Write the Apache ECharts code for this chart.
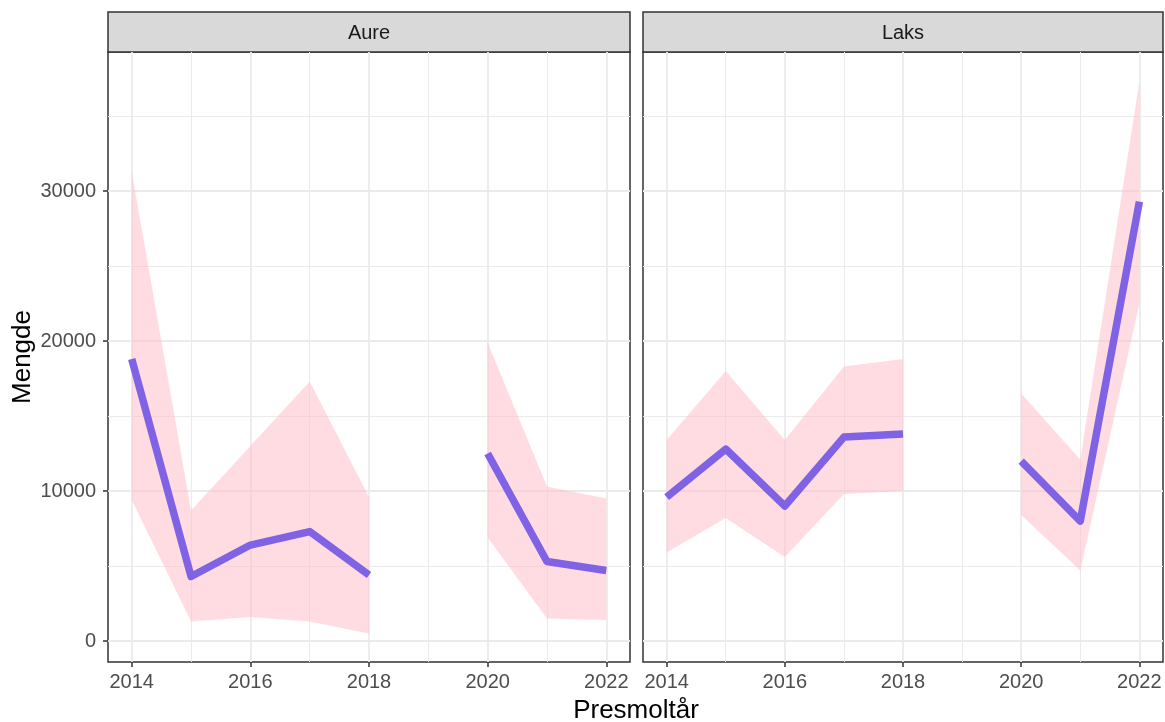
<!DOCTYPE html>
<html>
<head>
<meta charset="utf-8">
<title>Mengde per presmoltår</title>
<script src="https://cdn.jsdelivr.net/npm/echarts@6/dist/echarts.min.js"></script>
<style>
    html, body { margin: 0; padding: 0; background: #fff; }
    #chart { width: 1165px; height: 722px; }
</style>
</head>
<body>
<div id="chart"></div>
<script>
// data
var years = [2014, 2015, 2016, 2017, 2018, 2019, 2020, 2021, 2022];
var panels = ["Aure", "Laks"];

var aureEst = [18800, 4300, 6400, 7300, 4400, null, 12500, 5300, 4700];
var aureLow = [9400, 1300, 1600, 1300, 500, null, 6900, 1500, 1400];
var aureHigh = [31300, 8700, 13000, 17300, 9600, null, 19900, 10300, 9500];

var laksEst = [9600, 12800, 9000, 13600, 13800, null, 12000, 8000, 29300];
var laksLow = [5900, 8200, 5600, 9800, 10000, null, 8400, 4700, 22500];
var laksHigh = [13400, 18000, 13400, 18300, 18800, null, 16500, 12100, 37300];

var xMajor = [2014, 2016, 2018, 2020, 2022];
var xMinor = [2015, 2017, 2019, 2021];
var yMajor = [0, 10000, 20000, 30000];
var yMinor = [5000, 15000, 25000, 35000];

var FONT = "Liberation Sans, Arial, sans-serif";
var xMin = 2013.6, xMax = 2022.4; // ggplot 5% expansion
var yMin = -1400, yMax = 39280;

// panel rectangles (px)
var grids = [
    { left: 108, top: 52, width: 522, height: 610 },
    { left: 643, top: 52, width: 520, height: 610 }
];

function plain(v) { return String(v); } // no thousands separator

function xAxes(gi) {
    return [
        {
            type: "value", gridIndex: gi, min: xMin, max: xMax, position: "bottom",
            axisLine: { show: false, onZero: false },
            axisTick: { show: true, customValues: xMajor, length: 5, lineStyle: { color: "#333", width: 1.5 } },
            axisLabel: { customValues: xMajor, formatter: plain, color: "#4D4D4D", fontSize: 20, fontFamily: FONT, margin: 10 },
            splitLine: { show: true, lineStyle: { color: "#EBEBEB", width: 1.8 } }
        },
        {
            // only for the minor grid lines
            type: "value", gridIndex: gi, min: xMin, max: xMax, position: "top",
            axisLine: { show: false, onZero: false },
            axisTick: { show: false, customValues: xMinor },
            axisLabel: { show: false },
            splitLine: { show: true, lineStyle: { color: "#EBEBEB", width: 1 } }
        }
    ];
}

function yAxes(gi) {
    return [
        {
            type: "value", gridIndex: gi, min: yMin, max: yMax, position: "left",
            axisLine: { show: false, onZero: false },
            axisTick: { show: gi === 0, customValues: yMajor, length: 5, lineStyle: { color: "#333", width: 1.5 } },
            axisLabel: { show: gi === 0, customValues: yMajor, formatter: plain, color: "#4D4D4D", fontSize: 20, fontFamily: FONT, margin: 12 },
            splitLine: { show: true, lineStyle: { color: "#EBEBEB", width: 1.8 } }
        },
        {
            type: "value", gridIndex: gi, min: yMin, max: yMax, position: "right",
            axisLine: { show: false, onZero: false },
            axisTick: { show: false, customValues: yMinor },
            axisLabel: { show: false },
            splitLine: { show: true, lineStyle: { color: "#EBEBEB", width: 1 } }
        }
    ];
}

// one polygon per unbroken run of years
function ribbonRender(low, high) {
    return function (params, api) {
        var i = params.dataIndex;
        if (low[i] == null || (i > 0 && low[i - 1] != null)) return;
        var top = [], bottom = [];
        for (var j = i; j < years.length && low[j] != null; j++) {
            top.push(api.coord([years[j], high[j]]));
            bottom.unshift(api.coord([years[j], low[j]]));
        }
        return {
            type: "polygon",
            shape: { points: top.concat(bottom) },
            style: { fill: "rgba(255,192,203,0.55)" }
        };
    };
}

function panelSeries(gi, est, low, high) {
    var axisIdx = gi * 2;
    return [
        {
            type: "custom", xAxisIndex: axisIdx, yAxisIndex: axisIdx,
            renderItem: ribbonRender(low, high),
            data: years.map(function (y, i) { return [y, low[i], high[i]]; }),
            encode: { x: 0, y: [1, 2] },
            silent: true, z: 2
        },
        {
            type: "line", xAxisIndex: axisIdx, yAxisIndex: axisIdx,
            data: years.map(function (y, i) { return [y, est[i]]; }),
            showSymbol: false, connectNulls: false,
            lineStyle: { color: "#7F63E4", width: 7.5, cap: "butt", join: "round" },
            silent: true, z: 3
        }
    ];
}

// facet strips and axis titles
var graphics = [];
grids.forEach(function (g, i) {
    graphics.push({
        type: "rect",
        shape: { x: g.left, y: 12, width: g.width, height: g.top - 12 },
        style: { fill: "#D9D9D9", stroke: "#333", lineWidth: 1.5 }
    });
    graphics.push({
        type: "text",
        x: g.left + g.width / 2, y: 33,
        style: { text: panels[i], font: "20px " + FONT, fill: "#1A1A1A", align: "center", verticalAlign: "middle" }
    });
});
graphics.push({
    type: "text", x: 636, y: 711,
    style: { text: "Presmoltår", font: "26px " + FONT, fill: "#000", align: "center", verticalAlign: "middle" }
});
graphics.push({
    type: "text", x: 23, y: 357, rotation: Math.PI / 2,
    style: { text: "Mengde", font: "26px " + FONT, fill: "#000", align: "center", verticalAlign: "middle" }
});

var option = {
    animation: false,
    backgroundColor: "#fff",
    grid: grids.map(function (g) {
        return {
            left: g.left, top: g.top, width: g.width, height: g.height,
            show: true, borderColor: "#333", borderWidth: 1.5, backgroundColor: "#fff", containLabel: false
        };
    }),
    xAxis: xAxes(0).concat(xAxes(1)),
    yAxis: yAxes(0).concat(yAxes(1)),
    series: panelSeries(0, aureEst, aureLow, aureHigh).concat(panelSeries(1, laksEst, laksLow, laksHigh)),
    graphic: graphics
};

var chartObj = echarts.init(document.getElementById("chart"));
chartObj.setOption(option);
</script>
</body>
</html>
